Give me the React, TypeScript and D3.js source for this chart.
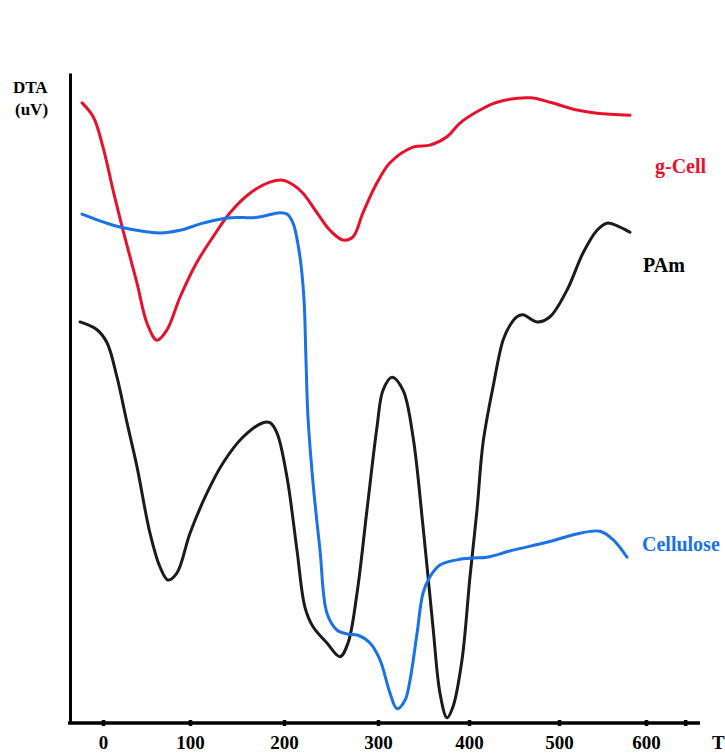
import React, { useEffect, useRef } from 'react'
import * as d3 from 'd3'

// temperature (T) and DTA signal (arbitrary 0-100 units)
const gCellT = [-24, -11, 0, 11.5, 23, 39, 50.6, 62, 73.6, 88.5, 107, 124.5, 142.6, 163.8, 185, 198.9, 209.6, 220.2, 235.1, 248.9, 262.8, 273.4, 284, 298.9, 313.2, 338.5, 357.1, 375.8, 390.1, 412.2, 431.1, 467.8, 490, 520.7, 543.7, 581.6]
const gCellV = [95.4, 93.2, 88.6, 82, 75.8, 67.7, 61.5, 58.9, 60.5, 65.5, 70.8, 74.8, 78.5, 81.5, 83.2, 83.5, 82.8, 81.5, 78.5, 75.8, 74.3, 74.8, 78.5, 83.1, 86.2, 88.6, 88.9, 90.2, 92.3, 94.3, 95.5, 96.2, 95.5, 94.3, 93.8, 93.5]

const pamT = [-26.4, -6.9, 4.6, 16.1, 27.6, 39.1, 54, 65.5, 74.7, 85.1, 100, 118.1, 135.1, 156.4, 177.7, 185.1, 192.6, 203.2, 213.8, 222.3, 230.9, 245.7, 259.6, 268.1, 277.7, 288.3, 298.9, 305.5, 315.4, 327.5, 338.5, 349.5, 360.4, 368.1, 375.8, 382.4, 392.3, 401.1, 408.9, 415.6, 426.7, 437.8, 445.6, 453.3, 460, 475.6, 490, 509.2, 527.6, 543.7, 555.2, 570.1, 581.6]
const pamV = [61.7, 60.5, 58.5, 53.2, 46.2, 39.4, 29.2, 24, 22, 23.1, 29.2, 35.4, 40, 44, 46.2, 46.2, 44.6, 37.8, 26.6, 17.8, 14.8, 12.3, 10.2, 12.3, 20, 32.8, 45.5, 51.2, 53.2, 51.2, 44, 30.2, 14.8, 4.6, 0.8, 2.5, 9.7, 22.5, 32.8, 43.1, 51.7, 58.9, 61.2, 62.5, 62.8, 61.7, 62.5, 66.6, 72.3, 75.8, 76.9, 76.3, 75.5]

const celluloseT = [-24.1, 0, 19.5, 65.5, 88.5, 113.8, 139.4, 171.3, 195.7, 203.2, 209.6, 217, 221.3, 223.4, 225.5, 230.9, 238.3, 245.7, 256.4, 267, 278.7, 291.5, 302.2, 313.2, 320.9, 329.7, 335.2, 342.9, 349.5, 357.1, 368.1, 386.8, 404.4, 420, 448.9, 486.7, 524.1, 547.1, 562.1, 578.2]
const celluloseV = [78.3, 77.1, 76.3, 75.4, 75.8, 76.9, 77.7, 77.8, 78.5, 78.3, 76.9, 71.7, 65.1, 55.8, 47.1, 36.9, 26.6, 16.9, 14.3, 13.7, 13.5, 12.3, 9.7, 4.6, 2.2, 3.5, 6.6, 13.8, 20, 22.5, 24.3, 25.1, 25.4, 25.5, 26.6, 27.8, 29.2, 29.5, 28.2, 25.5]

const tickTemps = [0, 100, 200, 300, 400, 500, 600]
const tickPixels = [103, 190, 284, 378, 469, 559, 646]

const series = [
  { name: 'g-Cell', t: gCellT, v: gCellV, color: '#e8112d', lx: 655, ly: 173 },
  { name: 'PAm', t: pamT, v: pamV, color: '#1b1b1b', lx: 643, ly: 272 },
  { name: 'Cellulose', t: celluloseT, v: celluloseV, color: '#1a72e6', lx: 642, ly: 551 }
]

const width = 725
const height = 755

// the hand drawn axis is not quite even, so map tick by tick
const xScale = d3.scaleLinear().domain(tickTemps).range(tickPixels)
const yScale = d3.scaleLinear().domain([0, 100]).range([723, 73])

const font = '"Liberation Serif", "Times New Roman", serif'

export default function App() {
  const ref = useRef<SVGSVGElement>(null)

  useEffect(() => {
    const svg = d3.select(ref.current)
    svg.selectAll('*').remove()

    svg.append('rect').attr('width', width).attr('height', height).attr('fill', '#ffffff')

    const line = d3.line<[number, number]>()
      .x(d => xScale(d[0]))
      .y(d => yScale(d[1]))
      .curve(d3.curveCatmullRom.alpha(0.5))

    series.forEach(s => {
      const pts = s.t.map((t, i) => [t, s.v[i]] as [number, number])
      svg.append('path')
        .attr('d', line(pts))
        .attr('fill', 'none')
        .attr('stroke', s.color)
        .attr('stroke-width', 3)
        .attr('stroke-linecap', 'round')
        .attr('stroke-linejoin', 'round')
      svg.append('text')
        .attr('x', s.lx)
        .attr('y', s.ly)
        .attr('fill', s.color === '#1b1b1b' ? '#000' : s.color)
        .attr('font-family', font)
        .attr('font-weight', 'bold')
        .attr('font-size', 20)
        .text(s.name)
    })

    // y axis, no ticks
    const yAxis = svg.append('g')
      .attr('transform', 'translate(70,0)')
      .call(d3.axisLeft(yScale).tickValues([]).tickSizeOuter(0))
    yAxis.select('.domain').attr('stroke', '#000').attr('stroke-width', 3)

    // x axis
    svg.append('line')
      .attr('x1', 68).attr('x2', 700)
      .attr('y1', 723).attr('y2', 723)
      .attr('stroke', '#000').attr('stroke-width', 3.5)

    const xAxis = svg.append('g')
      .attr('transform', 'translate(0,723)')
      .call(d3.axisBottom(xScale)
        .tickValues([...tickTemps, 645])
        .tickFormat(d => (tickTemps.includes(+d) ? String(d) : ''))
        .tickSizeOuter(0))
    xAxis.select('.domain').remove()
    xAxis.selectAll('.tick line')
      .attr('y1', -3).attr('y2', 3)
      .attr('stroke', '#000').attr('stroke-width', 3.5)
    xAxis.selectAll('.tick text')
      .attr('y', 26).attr('dy', 0)
      .attr('fill', '#000')
      .attr('font-family', font)
      .attr('font-weight', 'bold')
      .attr('font-size', 19)

    svg.append('text')
      .attr('x', 712).attr('y', 749)
      .attr('font-family', font).attr('font-weight', 'bold').attr('font-size', 19)
      .text('T')

    const yLabel = svg.append('text')
      .attr('font-family', font).attr('font-weight', 'bold').attr('font-size', 17)
    yLabel.append('tspan').attr('x', 13).attr('y', 93).text('DTA')
    yLabel.append('tspan').attr('x', 15).attr('y', 115).text('(uV)')
  }, [])

  return <svg ref={ref} width={width} height={height} style={{ position: 'absolute', left: 0, top: 0 }} />
}
